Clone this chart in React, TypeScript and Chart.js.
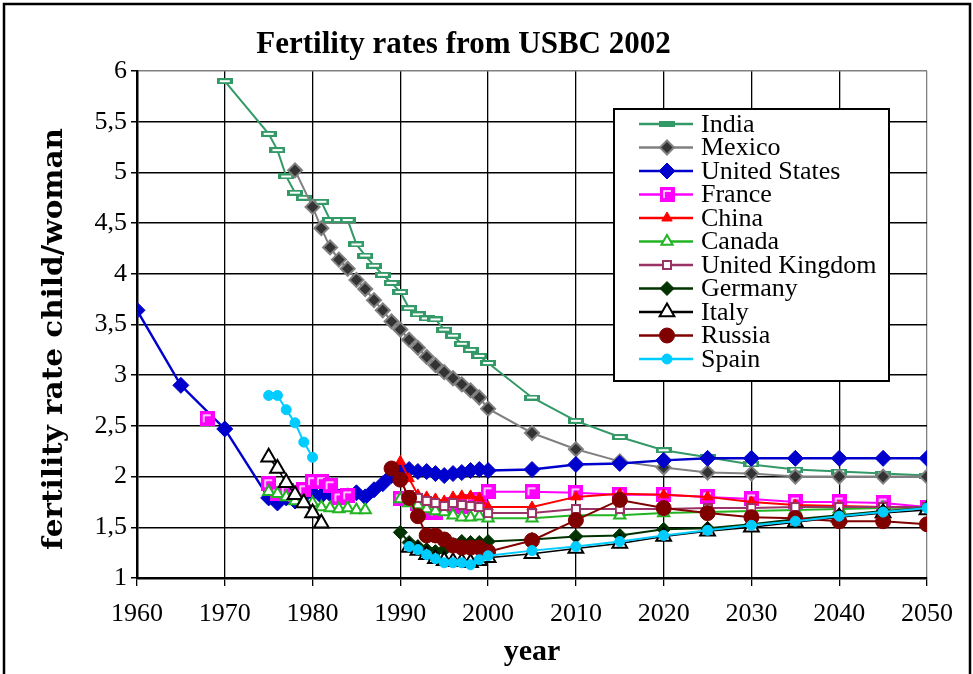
import React, { useEffect, useRef } from 'react';
import { Chart, registerables } from 'chart.js';

Chart.register(...registerables);

const chartTitle = 'Fertility rates from USBC 2002';
const xAxisTitle = 'year';
const yAxisTitle = 'fertility rate child/woman';
const xMin = 1960;
const xMax = 2050;
const xStep = 10;
const yMin = 1;
const yMax = 6;
const yStep = 0.5;

const indiaYears = [1970, 1975, 1976, 1977, 1978, 1979, 1981, 1982, 1983, 1984, 1985, 1986, 1987, 1988, 1989, 1990, 1991, 1992, 1993, 1994, 1995, 1996, 1997, 1998, 1999, 2000, 2005, 2010, 2015, 2020, 2025, 2030, 2035, 2040, 2045, 2050];
const indiaValues = [5.9, 5.38, 5.22, 4.96, 4.8, 4.75, 4.71, 4.53, 4.53, 4.53, 4.29, 4.18, 4.08, 3.99, 3.91, 3.82, 3.66, 3.6, 3.56, 3.55, 3.45, 3.39, 3.31, 3.25, 3.19, 3.12, 2.78, 2.55, 2.39, 2.26, 2.19, 2.12, 2.07, 2.05, 2.03, 2.01];

const mexicoYears = [1978, 1980, 1981, 1982, 1983, 1984, 1985, 1986, 1987, 1988, 1989, 1990, 1991, 1992, 1993, 1994, 1995, 1996, 1997, 1998, 1999, 2000, 2005, 2010, 2015, 2020, 2025, 2030, 2035, 2040, 2045, 2050];
const mexicoValues = [5.02, 4.66, 4.45, 4.26, 4.14, 4.05, 3.94, 3.85, 3.74, 3.64, 3.53, 3.45, 3.35, 3.27, 3.18, 3.1, 3.03, 2.97, 2.91, 2.85, 2.78, 2.67, 2.43, 2.27, 2.15, 2.09, 2.04, 2.03, 2.0, 2.0, 2.0, 2.0];

const usYears = [1960, 1965, 1970, 1975, 1976, 1977, 1978, 1979, 1980, 1981, 1982, 1983, 1984, 1985, 1986, 1987, 1988, 1989, 1990, 1991, 1992, 1993, 1994, 1995, 1996, 1997, 1998, 1999, 2000, 2005, 2010, 2015, 2020, 2025, 2030, 2035, 2040, 2045, 2050];
const usValues = [3.64, 2.9, 2.47, 1.79, 1.74, 1.79, 1.76, 1.81, 1.84, 1.81, 1.83, 1.8, 1.81, 1.84, 1.8, 1.87, 1.93, 2.01, 2.09, 2.07, 2.05, 2.05, 2.03, 2.01, 2.03, 2.04, 2.06, 2.07, 2.06, 2.07, 2.12, 2.13, 2.16, 2.18, 2.18, 2.18, 2.18, 2.18, 2.18];

const franceYears = [1968, 1972, 1975, 1976, 1977, 1978, 1979, 1980, 1981, 1982, 1983, 1984, 1987, 1990, 1991, 1992, 1993, 1994, 1995, 1996, 1997, 1998, 1999, 2000, 2005, 2010, 2015, 2020, 2025, 2030, 2035, 2040, 2045, 2050];
const franceValues = [2.57, null, 1.93, 1.83, 1.86, 1.82, 1.87, 1.95, 1.95, 1.91, 1.79, 1.81, null, 1.78, 1.77, 1.73, 1.65, 1.65, 1.7, 1.72, 1.71, 1.75, 1.77, 1.85, 1.85, 1.84, 1.82, 1.82, 1.8, 1.78, 1.75, 1.75, 1.74, 1.7];

const chinaYears = [1990, 1991, 1992, 1993, 1994, 1995, 1996, 1997, 1998, 1999, 2000, 2005, 2010, 2015, 2020, 2025, 2030, 2035, 2040, 2045, 2050];
const chinaValues = [2.15, 1.98, 1.82, 1.8, 1.78, 1.76, 1.8, 1.81, 1.81, 1.79, 1.7, 1.7, 1.8, 1.83, 1.82, 1.8, 1.75, 1.72, 1.71, 1.7, 1.69];

const canadaYears = [1975, 1976, 1977, 1978, 1979, 1980, 1981, 1982, 1983, 1984, 1985, 1986, 1988, 1990, 1991, 1992, 1993, 1994, 1995, 1996, 1997, 1998, 1999, 2000, 2005, 2010, 2015, 2020, 2025, 2030, 2035, 2040, 2045, 2050];
const canadaValues = [1.85, 1.83, 1.8, 1.76, 1.76, 1.74, 1.7, 1.69, 1.68, 1.69, 1.67, 1.67, null, 1.78, 1.74, 1.72, 1.68, 1.66, 1.65, 1.62, 1.6, 1.6, 1.61, 1.59, 1.59, 1.62, 1.62, 1.64, 1.65, 1.66, 1.67, 1.68, 1.69, 1.7];

const ukYears = [1991, 1992, 1993, 1994, 1995, 1996, 1997, 1998, 1999, 2000, 2005, 2010, 2015, 2020, 2025, 2030, 2035, 2040, 2045, 2050];
const ukValues = [1.82, 1.79, 1.76, 1.74, 1.71, 1.74, 1.72, 1.71, 1.7, 1.64, 1.64, 1.68, 1.68, 1.68, 1.69, 1.69, 1.7, 1.7, 1.7, 1.7];

const germanyYears = [1990, 1991, 1992, 1993, 1994, 1995, 1996, 1997, 1998, 1999, 2000, 2005, 2010, 2015, 2020, 2025, 2030, 2035, 2040, 2045, 2050];
const germanyValues = [1.45, 1.35, 1.31, 1.28, 1.26, 1.28, 1.33, 1.36, 1.35, 1.35, 1.36, 1.38, 1.41, 1.42, 1.48, 1.49, 1.53, 1.58, 1.62, 1.66, 1.69];

const italyYears = [1975, 1976, 1977, 1978, 1979, 1980, 1981, 1985, 1991, 1992, 1993, 1994, 1995, 1996, 1997, 1998, 1999, 2000, 2005, 2010, 2015, 2020, 2025, 2030, 2035, 2040, 2045, 2050];
const italyValues = [2.19, 2.08, 1.94, 1.82, 1.74, 1.64, 1.54, null, 1.3, 1.27, 1.23, 1.19, 1.17, 1.16, 1.16, 1.15, 1.17, 1.2, 1.24, 1.29, 1.34, 1.41, 1.46, 1.5, 1.55, 1.6, 1.64, 1.67];

const russiaYears = [1989, 1990, 1991, 1992, 1993, 1994, 1995, 1996, 1997, 1998, 1999, 2000, 2005, 2010, 2015, 2020, 2025, 2030, 2035, 2040, 2045, 2050];
const russiaValues = [2.08, 1.97, 1.79, 1.61, 1.42, 1.42, 1.38, 1.32, 1.3, 1.3, 1.3, 1.26, 1.37, 1.57, 1.77, 1.69, 1.64, 1.6, 1.59, 1.56, 1.56, 1.53];

const spainYears = [1975, 1976, 1977, 1978, 1979, 1980, 1985, 1991, 1992, 1993, 1994, 1995, 1996, 1997, 1998, 1999, 2000, 2005, 2010, 2015, 2020, 2025, 2030, 2035, 2040, 2045, 2050];
const spainValues = [2.8, 2.8, 2.66, 2.53, 2.34, 2.19, null, 1.31, 1.28, 1.23, 1.19, 1.15, 1.15, 1.15, 1.13, 1.18, 1.22, 1.27, 1.31, 1.36, 1.42, 1.47, 1.52, 1.56, 1.61, 1.65, 1.69];

const serif = '"Liberation Serif", "Times New Roman", serif';

function makeCanvas(w: number, h: number, draw: (g: CanvasRenderingContext2D) => void) {
  const c = document.createElement('canvas');
  c.width = w;
  c.height = h;
  const g = c.getContext('2d') as CanvasRenderingContext2D;
  draw(g);
  return c;
}

type Marker = {
  shape: string;
  radius: number;
  fill: string;
  stroke: string;
  borderWidth: number;
  image?: HTMLCanvasElement;
};

function drawMarker(ctx: CanvasRenderingContext2D, m: Marker, x: number, y: number) {
  if (m.image) {
    ctx.drawImage(m.image, Math.round(x - m.image.width / 2), Math.round(y - m.image.height / 2));
    return;
  }
  const r = m.radius;
  ctx.beginPath();
  if (m.shape === 'rectRot') {
    ctx.moveTo(x, y - r);
    ctx.lineTo(x + r, y);
    ctx.lineTo(x, y + r);
    ctx.lineTo(x - r, y);
    ctx.closePath();
  } else if (m.shape === 'triangle') {
    ctx.moveTo(x, y - r);
    ctx.lineTo(x + r * 0.866, y + r / 2);
    ctx.lineTo(x - r * 0.866, y + r / 2);
    ctx.closePath();
  } else {
    ctx.arc(x, y, r, 0, Math.PI * 2);
  }
  ctx.fillStyle = m.fill;
  ctx.fill();
  if (m.borderWidth > 0) {
    ctx.lineWidth = m.borderWidth;
    ctx.strokeStyle = m.stroke;
    ctx.stroke();
  }
}

export default function App() {
  const ref = useRef<HTMLCanvasElement | null>(null);

  useEffect(() => {
    document.body.style.margin = '0';
    const canvas = ref.current;
    if (!canvas) return;

    const indiaImg = makeCanvas(16, 6, (g) => {
      g.fillStyle = '#339966';
      g.fillRect(0, 0, 16, 6);
      g.fillStyle = '#ffffff';
      g.fillRect(3, 2, 10, 2);
    });
    const indiaLegendImg = makeCanvas(16, 6, (g) => {
      g.fillStyle = '#339966';
      g.fillRect(0, 0, 16, 6);
    });
    const franceImg = makeCanvas(15, 15, (g) => {
      g.fillStyle = '#FF00FF';
      g.fillRect(0, 0, 15, 15);
      g.strokeStyle = '#ffffff';
      g.lineWidth = 1.5;
      g.beginPath();
      g.moveTo(4, 11);
      g.lineTo(4, 4);
      g.lineTo(11, 4);
      g.stroke();
    });
    const ukImg = makeCanvas(10, 10, (g) => {
      g.fillStyle = '#993366';
      g.fillRect(0, 0, 10, 10);
      g.fillStyle = '#ffffff';
      g.fillRect(2, 2, 6, 6);
    });

    const series = [
      { label: 'India', years: indiaYears, values: indiaValues, color: '#339966', width: 2, marker: { shape: 'image', radius: 8, fill: '#339966', stroke: '#339966', borderWidth: 0, image: indiaImg }, legendImage: indiaLegendImg },
      { label: 'Mexico', years: mexicoYears, values: mexicoValues, color: '#808080', width: 2, marker: { shape: 'rectRot', radius: 7, fill: '#333333', stroke: '#808080', borderWidth: 2 } },
      { label: 'United States', years: usYears, values: usValues, color: '#0000CC', width: 2.5, marker: { shape: 'rectRot', radius: 8, fill: '#0000CC', stroke: '#0000CC', borderWidth: 1 } },
      { label: 'France', years: franceYears, values: franceValues, color: '#FF00FF', width: 2, marker: { shape: 'image', radius: 8, fill: '#FF00FF', stroke: '#FF00FF', borderWidth: 0, image: franceImg } },
      { label: 'China', years: chinaYears, values: chinaValues, color: '#FF0000', width: 2, marker: { shape: 'triangle', radius: 6, fill: '#FF0000', stroke: '#FF0000', borderWidth: 1 } },
      { label: 'Canada', years: canadaYears, values: canadaValues, color: '#22B422', width: 2, marker: { shape: 'triangle', radius: 6.5, fill: '#ffffff', stroke: '#22B422', borderWidth: 2 } },
      { label: 'United Kingdom', years: ukYears, values: ukValues, color: '#993366', width: 2, marker: { shape: 'image', radius: 5, fill: '#993366', stroke: '#993366', borderWidth: 0, image: ukImg } },
      { label: 'Germany', years: germanyYears, values: germanyValues, color: '#003300', width: 2, marker: { shape: 'rectRot', radius: 7, fill: '#003300', stroke: '#003300', borderWidth: 1 } },
      { label: 'Italy', years: italyYears, values: italyValues, color: '#000000', width: 1.5, marker: { shape: 'triangle', radius: 8.5, fill: '#ffffff', stroke: '#000000', borderWidth: 2 } },
      { label: 'Russia', years: russiaYears, values: russiaValues, color: '#800000', width: 2, marker: { shape: 'circle', radius: 7.5, fill: '#800000', stroke: '#800000', borderWidth: 1 } },
      { label: 'Spain', years: spainYears, values: spainValues, color: '#00CCFF', width: 2, marker: { shape: 'circle', radius: 5, fill: '#00CCFF', stroke: '#00CCFF', borderWidth: 1 } },
    ];

    const n = series.length;
    const datasets = series.map((s, i) => ({
      label: s.label,
      data: s.years.map((yr, k) => ({ x: yr, y: s.values[k] })),
      borderColor: s.color,
      backgroundColor: s.marker.fill,
      borderWidth: s.width,
      pointStyle: (s.marker.image ? s.marker.image : s.marker.shape) as any,
      pointRadius: s.marker.radius,
      pointBackgroundColor: s.marker.fill,
      pointBorderColor: s.marker.stroke,
      pointBorderWidth: s.marker.borderWidth,
      pointHoverRadius: s.marker.radius,
      tension: 0,
      spanGaps: false,
      fill: false,
      order: n - i,
    }));

    const framePlugin = {
      id: 'frame',
      beforeDraw(chart: any) {
        const ctx = chart.ctx;
        ctx.save();
        ctx.fillStyle = '#ffffff';
        ctx.fillRect(0, 0, chart.width, chart.height);
        ctx.restore();
      },
      afterDraw(chart: any) {
        const ctx = chart.ctx as CanvasRenderingContext2D;
        // y axis title
        ctx.save();
        ctx.translate(55, 339);
        ctx.rotate(-Math.PI / 2);
        ctx.font = 'bold 28px "DejaVu Serif"';
        const w = ctx.measureText(yAxisTitle).width;
        ctx.scale(422 / w, 1);
        ctx.textAlign = 'center';
        ctx.textBaseline = 'middle';
        ctx.fillStyle = '#000';
        ctx.fillText(yAxisTitle, 0, 0);
        ctx.restore();

        // legend
        const lx = 614, ly = 109, lw = 275, lh = 272;
        ctx.save();
        ctx.fillStyle = '#ffffff';
        ctx.fillRect(lx, ly, lw, lh);
        ctx.lineWidth = 2;
        ctx.strokeStyle = '#000';
        ctx.strokeRect(lx, ly, lw, lh);
        ctx.font = '26px ' + serif;
        ctx.textBaseline = 'middle';
        ctx.textAlign = 'left';
        series.forEach((s: any, i) => {
          const y = 124 + i * 23.5;
          ctx.beginPath();
          ctx.moveTo(639, y);
          ctx.lineTo(693, y);
          ctx.lineWidth = 2.5;
          ctx.strokeStyle = s.color;
          ctx.stroke();
          const m = s.legendImage ? { ...s.marker, image: s.legendImage } : s.marker;
          drawMarker(ctx, m as Marker, 667, y);
          ctx.fillStyle = '#000';
          ctx.fillText(s.label, 701, y + 1);
        });
        ctx.restore();

        // outer frame
        ctx.save();
        ctx.lineWidth = 2.5;
        ctx.strokeStyle = '#000';
        ctx.strokeRect(4, 4, 966, 690);
        ctx.restore();
      },
    };

    const chart = new Chart(canvas, {
      type: 'line',
      data: { datasets: datasets as any },
      options: {
        responsive: false,
        animation: false,
        devicePixelRatio: 1,
        layout: { padding: { top: 0, right: 46, left: 0, bottom: 0 } },
        plugins: {
          legend: { display: false },
          tooltip: { enabled: false },
          title: {
            display: true,
            text: chartTitle,
            color: '#000',
            font: { family: serif, size: 31, weight: 'bold' },
            padding: { top: 26, bottom: 7.8 },
          },
        },
        scales: {
          x: {
            type: 'linear',
            min: xMin,
            max: xMax,
            afterFit: (s: any) => {
              s.height = 96;
            },
            ticks: {
              stepSize: xStep,
              autoSkip: false,
              maxRotation: 0,
              color: '#000',
              padding: 13,
              font: { family: serif, size: 26 },
              callback: (v: any) => String(v),
            },
            grid: {
              color: (c: any) => (c.tick && c.tick.value === xMax ? '#808080' : '#000'),
              lineWidth: 1.3,
              tickLength: 8,
              tickColor: '#000',
            },
            border: { display: true, color: '#000', width: 2.5 },
            title: {
              display: true,
              text: xAxisTitle,
              color: '#000',
              font: { family: serif, size: 30, weight: 'bold' },
              padding: { top: 7, bottom: 4 },
            },
          },
          y: {
            type: 'linear',
            min: yMin,
            max: yMax,
            afterFit: (s: any) => {
              s.width = 137;
            },
            ticks: {
              stepSize: yStep,
              color: '#000',
              padding: 4,
              font: { family: serif, size: 26 },
              callback: (v: any) => String(v).replace('.', ','),
            },
            grid: {
              color: (c: any) => (c.tick && c.tick.value === yMax ? '#808080' : '#000'),
              lineWidth: 1.5,
              tickLength: 6,
              tickColor: '#000',
            },
            border: { display: true, color: '#000', width: 2.5 },
          },
        },
      },
      plugins: [framePlugin],
    } as any);

    return () => {
      chart.destroy();
    };
  }, []);

  return (
    <div style={{ width: 973, height: 674 }}>
      <canvas ref={ref} width={973} height={674} style={{ display: 'block' }} />
    </div>
  );
}
